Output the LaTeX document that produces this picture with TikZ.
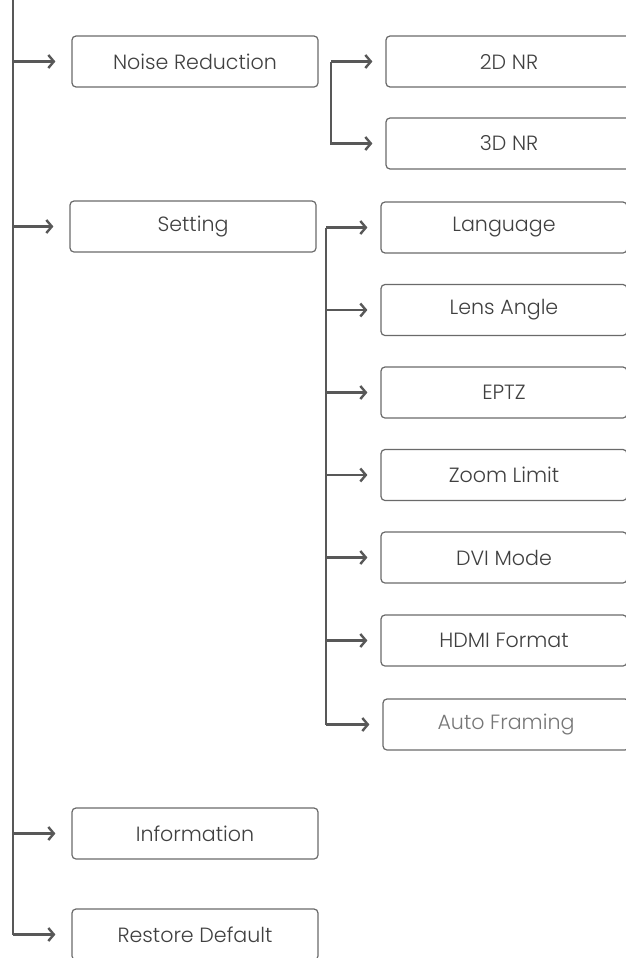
\documentclass[tikz,border=0pt]{standalone}
\usepackage{fontspec}
\setmainfont{Poppins Light}
\usetikzlibrary{arrows.meta}
\definecolor{linec}{HTML}{585858}
\definecolor{boxc}{HTML}{6A6A6A}
\definecolor{textc}{HTML}{404040}
\definecolor{lightt}{HTML}{777777}
\tikzset{
  menubox/.style={draw=boxc, line width=1.2bp, rounded corners=4bp, minimum width=246bp, minimum height=51bp, inner sep=0pt, text=textc, font=\fontsize{20.6bp}{24bp}\selectfont},
  conn/.style={draw=linec, line width=2.4bp},
  arr/.style={conn, -{Straight Barb[length=5.5bp,width=13bp]}},
}
\begin{document}
\begin{tikzpicture}[x=1bp,y=-1bp]
\clip (0,0) rectangle (626,958);
\fill[white] (0,0) rectangle (626,958);
% main level
\node[menubox] (nr) at (195,61.5) {Noise Reduction};
\node[menubox] (set) at (193,226.5) {Setting};
\node[menubox] (info) at (195,833.5) {Information};
\node[menubox] (rest) at (195,934.5) {Restore Default};
% NR sub
\node[menubox] (nr2) at (509,61.5) {2D NR};
\node[menubox] (nr3) at (509,143.5) {3D NR};
% Setting sub
\node[menubox] (lang) at (504,227.5) {Language};
\node[menubox] (lens) at (504,310) {Lens Angle};
\node[menubox] (eptz) at (504,392.5) {EPTZ};
\node[menubox] (zoom) at (504,475) {Zoom Limit};
\node[menubox] (dvi) at (504,557.5) {DVI Mode};
\node[menubox] (hdmi) at (504,640.5) {HDMI Format};
\node[menubox, text=lightt] (auto) at (506,724.5) {Auto Framing};
% coordinates
\coordinate (top) at (13,-2);
\coordinate (nrj) at (331,61.5);
\coordinate (setj) at (326,227.5);
% main trunk
\draw[conn] (top) -- (rest.west -| top);
\foreach \n in {nr,set,info,rest}
  \draw[arr, shorten >=16bp] (\n.west -| top) -- (\n.west);
% NR bracket
\draw[arr, shorten >=13bp] (nrj) -- (nr2.west);
\draw[arr, shorten >=13bp] (nrj) |- (nr3.west);
% Setting bracket
\draw[conn] (setj) -- (auto.west -| setj);
\foreach \n in {lang,lens,eptz,zoom,dvi,hdmi,auto}
  \draw[arr, shorten >=13bp] (\n.west -| setj) -- (\n.west);
\end{tikzpicture}
\end{document}
